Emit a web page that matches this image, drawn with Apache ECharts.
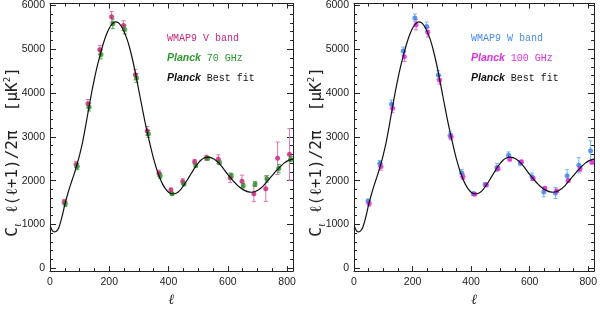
<!DOCTYPE html>
<html><head><meta charset="utf-8">
<script src="https://cdn.jsdelivr.net/npm/echarts@6/dist/echarts.min.js"></script>
<style>html,body{margin:0;padding:0;background:#fff}#c{width:600px;height:312px}</style>
</head><body><div id="c"></div>
<script>
// ---- data ----
const xMajor = [0, 200, 400, 600, 800];
const yMajor = [0, 1000, 2000, 3000, 4000, 5000, 6000];
const curveL = [2,6,10,15,20,25,30,40,50,60,70,80,90,100,110,120,130,140,150,160,170,180,190,200,210,220,230,240,250,260,270,280,290,300,310,320,330,340,350,360,370,380,390,400,410,420,430,440,450,460,470,480,490,500,510,520,530,540,550,560,570,580,590,600,610,620,630,640,650,660,670,680,690,700,710,720,730,740,750,760,770,780,790,800,810,820];
const curveD = [950,880,845,830,838,872,930,1160,1450,1700,1920,2120,2340,2590,2880,3240,3620,3990,4330,4630,4890,5130,5330,5480,5580,5625,5610,5530,5400,5230,5000,4720,4400,4050,3700,3360,3050,2760,2490,2260,2070,1920,1810,1735,1700,1700,1730,1790,1880,1980,2090,2200,2310,2400,2470,2515,2535,2530,2505,2460,2400,2320,2230,2140,2060,1980,1910,1850,1800,1765,1742,1735,1745,1775,1820,1880,1960,2040,2120,2200,2270,2340,2400,2445,2475,2490];
const wmapL   = [48,88,128,168,208,248,288,328,368,408,448,488,528,568,608,648,688,728,768,808];
const planckL = [52,92,132,172,212,252,292,332,372,412,452,492,532,572,612,652,692,732,772,812];
const wmapV      = [1510,2370,3757,4990,5740,5540,4420,3135,2170,1785,1980,2430,2520,2490,2065,1985,1700,1815,2510,2600];
const wmapVErr   = [60,70,95,100,120,110,120,100,70,45,65,55,60,100,110,140,180,290,370,590];
const planck70   = [1470,2320,3680,4880,5580,5450,4345,3065,2110,1700,1920,2345,2510,2410,2110,1885,1920,2040,2275,2490];
const planck70Err= [60,70,90,100,110,100,100,80,60,30,35,40,40,45,50,50,55,75,95,60];
const wmapW      = [1530,2390,3742,4960,5716,5520,4410,3030,2172,1700,1910,2300,2580,2401,2090,1740,1716,2110,2350,2680];
const wmapWErr   = [50,70,100,90,90,100,100,80,85,40,40,90,75,60,85,110,125,140,175,230];
const planck100  = [1480,2320,3650,4830,5560,5390,4300,3000,2090,1690,1900,2275,2490,2430,2050,1825,1765,2000,2270,2420];
const planck100Err=[60,80,100,110,120,110,100,70,60,30,30,40,40,35,40,35,40,35,60,40];

// ---- layout ----
const X_MIN = 0, X_MAX = 820, Y_MIN = -66, Y_MAX = 6044;
const panels = [
  {left: 50, width: 243, wmap: wmapV, wmapErr: wmapVErr, pl: planck70, plErr: planck70Err,
   wCol: '#c8206e', wErrCol: '#d777b0', pCol: '#2a8f2a', pErrCol: '#4cb04c',
   leg: [['WMAP9 V band', null, '#c8287a'], ['Planck', ' 70 GHz', '#2a9a2a'], ['Planck', ' Best fit', '#111']], legX: 167},
  {left: 354, width: 244, wmap: wmapW, wmapErr: wmapWErr, pl: planck100, plErr: planck100Err,
   wCol: '#3b7fe6', wErrCol: '#78b4f2', pCol: '#e020e0', pErrCol: '#e070e0',
   leg: [['WMAP9 W band', null, '#4a8ae8'], ['Planck', ' 100 GHz', '#e030e0'], ['Planck', ' Best fit', '#111']], legX: 471}
];
const TOP = 3, HEIGHT = 276;
const axisCol = '#222';
const labelFont = {fontFamily: 'Liberation Sans', fontSize: 10.5, color: '#222'};
const minorX = [];
for (let v = 50; v < 820; v += 50) if (v % 200) minorX.push(v);
const minorY = [];
for (let v = 200; v < 6000; v += 200) if (v % 1000) minorY.push(v);

const grids = [], xAxes = [], yAxes = [], series = [], graphics = [];
function mkAxis(dim, grid, pos, vals, len, showLine, labels, extra) {
  const a = Object.assign({
    type: 'value', gridIndex: grid, position: pos,
    min: dim === 'x' ? X_MIN : Y_MIN, max: dim === 'x' ? X_MAX : Y_MAX,
    axisLine: {show: showLine, onZero: false, lineStyle: {color: axisCol, width: 1}},
    axisTick: {show: true, inside: true, length: len, customValues: vals, lineStyle: {color: axisCol, width: 1}},
    axisLabel: labels ? Object.assign({show: true, customValues: vals, margin: dim === 'x' ? 6 : 5,
      formatter: v => String(Math.round(v))}, labelFont) : {show: false},
    splitLine: {show: false}, minorTick: {show: false}
  }, extra || {});
  return a;
}
panels.forEach((p, i) => {
  grids.push({left: p.left, top: TOP, width: p.width, height: HEIGHT, containLabel: false});
  const xb = xAxes.length;
  xAxes.push(mkAxis('x', i, 'bottom', xMajor, 5, true, true,
    {name: 'ℓ', nameLocation: 'middle', nameGap: 21,
     nameTextStyle: {fontFamily: 'DejaVu Serif', fontStyle: 'italic', fontSize: 14, color: '#222'}}));
  xAxes.push(mkAxis('x', i, 'bottom', minorX, 3, false, false));
  xAxes.push(mkAxis('x', i, 'top', xMajor, 5, true, false));
  xAxes.push(mkAxis('x', i, 'top', minorX, 3, false, false));
  const yb = yAxes.length;
  yAxes.push(mkAxis('y', i, 'left', yMajor, 6, true, true));
  yAxes.push(mkAxis('y', i, 'left', minorY, 3, false, false));
  yAxes.push(mkAxis('y', i, 'right', yMajor, 6, true, false));
  yAxes.push(mkAxis('y', i, 'right', minorY, 3, false, false));

  function errSeries(xs, ys, es, color) {
    return {
      type: 'custom', xAxisIndex: xb, yAxisIndex: yb, silent: true, z: 2,
      data: xs.map((x, k) => [x, ys[k] - es[k], ys[k] + es[k]]),
      encode: {x: 0, y: [1, 2]},
      renderItem(params, api) {
        const x = api.value(0);
        const lo = api.coord([x, api.value(1)]);
        const hi = api.coord([x, api.value(2)]);
        const w = 2;
        const st = {stroke: color, lineWidth: 1};
        return {type: 'group', children: [
          {type: 'line', shape: {x1: lo[0], y1: lo[1], x2: hi[0], y2: hi[1]}, style: st},
          {type: 'line', shape: {x1: lo[0] - w, y1: lo[1], x2: lo[0] + w, y2: lo[1]}, style: st},
          {type: 'line', shape: {x1: hi[0] - w, y1: hi[1], x2: hi[0] + w, y2: hi[1]}, style: st}
        ]};
      }
    };
  }
  function pts(xs, ys, color) {
    return {type: 'scatter', xAxisIndex: xb, yAxisIndex: yb, symbol: 'circle', symbolSize: 5, z: 3,
      itemStyle: {color: color}, silent: true, data: xs.map((x, k) => [x, ys[k]])};
  }
  series.push(errSeries(wmapL, p.wmap, p.wmapErr, p.wErrCol));
  series.push(pts(wmapL, p.wmap, p.wCol));
  series.push(errSeries(planckL, p.pl, p.plErr, p.pErrCol));
  series.push(pts(planckL, p.pl, p.pCol));
  series.push({type: 'line', xAxisIndex: xb, yAxisIndex: yb, smooth: 0.3, showSymbol: false, symbol: 'none', z: 4,
    lineStyle: {color: '#111', width: 1.2}, silent: true, data: curveL.map((l, k) => [l, curveD[k]])});

  // legend texts
  p.leg.forEach((row, r) => {
    let text;
    if (row[1] === null) {
      text = '{n|' + row[0] + '}';
    } else {
      text = '{b|' + row[0] + '}{n|' + row[1] + '}';
    }
    graphics.push({type: 'text', left: p.legX, top: 33 + r * 20, silent: true,
      style: {text: text, rich: {
        n: {fontFamily: 'Liberation Mono', fontSize: 10, fill: row[2], color: row[2]},
        b: {fontFamily: 'Liberation Sans', fontSize: 10.5, fontWeight: 'bold', fontStyle: 'italic', fill: row[2], color: row[2]}
      }}});
  });
  // y axis title
  const tf = 'DejaVu Sans Mono';
  graphics.push({type: 'text', x: p.left - 37, y: 152, rotation: Math.PI / 2, silent: true,
    style: {text: '{c|C}{s|ℓ}{t| ℓ(ℓ+1)/2π  [μK}{p|2}{t|]}', align: 'center', verticalAlign: 'middle',
      rich: {
        c: {fontFamily: tf, fontSize: 16, fill: '#222', color: '#222', lineHeight: 20, verticalAlign: 'middle'},
        s: {fontFamily: tf, fontSize: 9, fill: '#222', color: '#222', lineHeight: 20, verticalAlign: 'bottom'},
        t: {fontFamily: tf, fontSize: 16, fill: '#222', color: '#222', lineHeight: 20, verticalAlign: 'middle'},
        p: {fontFamily: tf, fontSize: 9, fill: '#222', color: '#222', lineHeight: 20, verticalAlign: 'top'}
      }}});
});

const chart = echarts.init(document.getElementById('c'), null, {renderer: 'canvas'});
chart.setOption({
  animation: false, backgroundColor: '#fff',
  grid: grids, xAxis: xAxes, yAxis: yAxes, series: series, graphic: graphics
});
</script></body></html>
